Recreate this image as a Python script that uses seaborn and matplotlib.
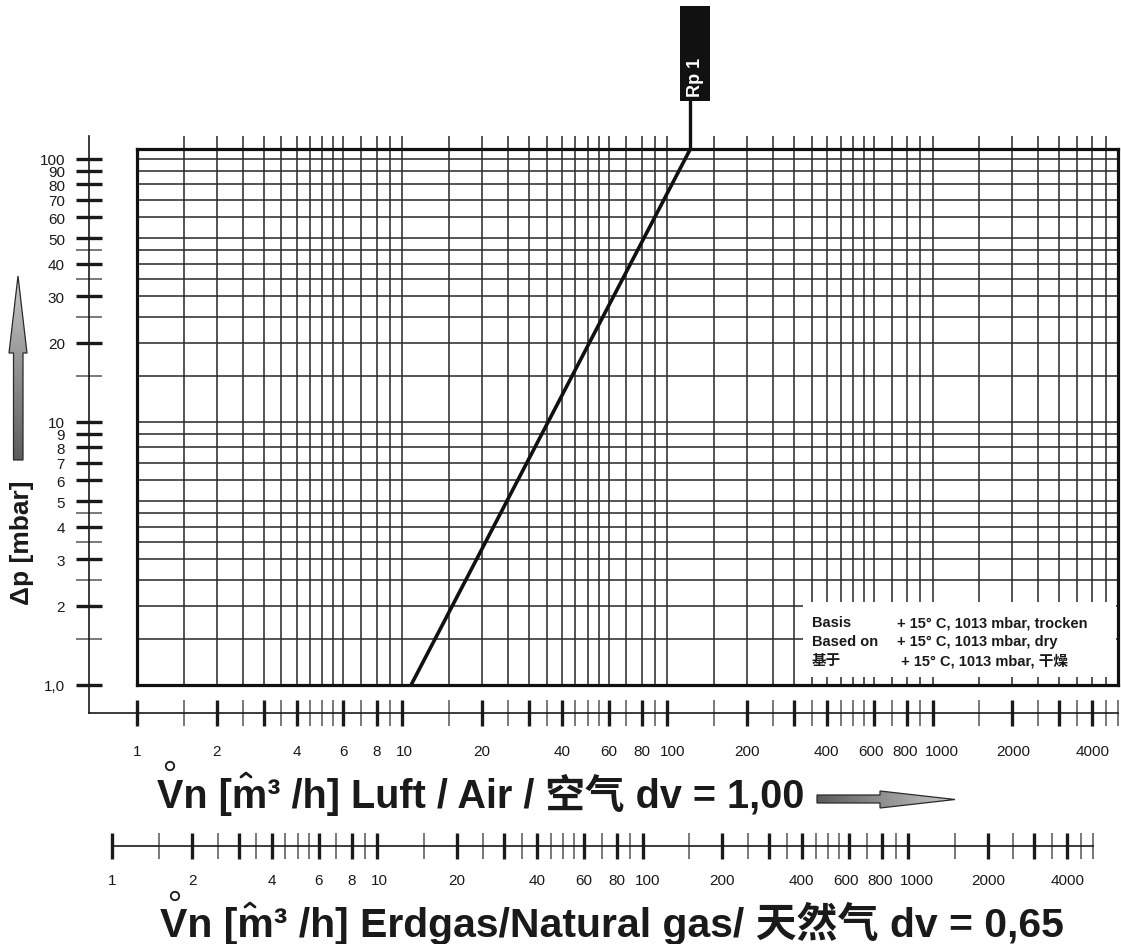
import numpy as np
import matplotlib
matplotlib.use("Agg")
import matplotlib.pyplot as plt
import seaborn as sns
from matplotlib.ticker import FixedLocator, FixedFormatter, NullFormatter
from matplotlib.patches import Rectangle, Polygon, Circle
from matplotlib.colors import LinearSegmentedColormap
from matplotlib.transforms import blended_transform_factory, offset_copy

W, H = 1121, 945

# Rp 1 pressure-drop line (air, dv = 1.00)
rp1_flow = [10.8, 122.0]   # m3/h
rp1_dp = [1.0, 109.0]      # mbar
dv_air = 1.00
dv_gas = 0.65

# scale structure of the log paper
mantissa = [1, 1.5, 2, 2.5, 3, 3.5, 4, 4.5, 5, 5.5, 6, 7, 8, 9]
decades = [1, 10, 100, 1000]
x_max = 5000
x_major = [1, 2, 3, 4, 6, 8, 10, 20, 30, 40, 60, 80, 100, 200, 300, 400,
           600, 800, 1000, 2000, 3000, 4000]
x_labels = ['1', '2', '', '4', '6', '8', '10', '20', '', '40', '60', '80',
            '100', '200', '', '400', '600', '800', '1000', '2000', '', '4000']
y_major = [1, 2, 3, 4, 5, 6, 7, 8, 9, 10, 20, 30, 40, 50, 60, 70, 80, 90, 100]
y_labels = ['1,0', '2', '3', '4', '5', '6', '7', '8', '9', '10',
            '20', '30', '40', '50', '60', '70', '80', '90', '100']
y_minor = [1.5, 2.5, 3.5, 4.5, 15, 25, 35, 45]
y_grid = [1.5, 2, 2.5, 3, 3.5, 4, 4.5, 5, 6, 7, 8, 9,
          10, 15, 20, 25, 30, 35, 40, 45, 50, 60, 70, 80, 90, 100]
y_max = 109

x_grid = [m * d for d in decades for m in mantissa if 1 < m * d < x_max]
x_minor = [v for v in x_grid if v not in x_major] + [x_max]

note_rows = [("Basis", "+ 15° C, 1013 mbar, trocken"),
             ("Based on", "+ 15° C, 1013 mbar, dry"),
             ("基于", " + 15° C, 1013 mbar, 干燥")]

# small horizontal nudges (px) of the scale labels, as printed
label_nudge = {'10': 2, '100': 5, '1000': 9, '400': -1, '600': -3,
               '800': -2, '2000': 1}

sns.set_theme(style="white")
plt.rcParams['font.family'] = ['Liberation Sans', 'Noto Sans CJK SC']

fig = plt.figure(figsize=(W / 100, H / 100), dpi=100)

# pixel layout of the paper
X0, X1 = 137, 1118
Y0, Y1 = 150, 686
dec_x = (X1 - X0) / np.log10(x_max)
dec_y = (Y1 - Y0) / np.log10(y_max)


def rect(x0, y0, x1, y1):
    return [x0 / W, 1 - y1 / H, (x1 - x0) / W, (y1 - y0) / H]


TICK = 18.7


def flow_scale(a, label_drop):
    # log flow scale along the bottom spine
    a.xaxis.set_major_locator(FixedLocator(x_major))
    a.xaxis.set_major_formatter(NullFormatter())
    a.xaxis.set_minor_locator(FixedLocator(x_minor))
    a.xaxis.set_minor_formatter(NullFormatter())
    a.tick_params(axis='x', which='major', direction='inout', length=TICK,
                  width=2.4, color='#1a1a1a', bottom=True)
    a.tick_params(axis='x', which='minor', direction='inout', length=TICK,
                  width=1.1, color='#555555', bottom=True)
    base = blended_transform_factory(a.transData, a.transAxes)
    for v, lab in zip(x_major, x_labels):
        if lab:
            tr = offset_copy(base, fig=fig, x=label_nudge.get(lab, 0),
                             y=-label_drop, units='dots')
            a.text(v, 0, lab, transform=tr, ha='center', va='top',
                   fontsize=11, color='#1a1a1a', clip_on=False)


# outer scale axes (y scale on the left, air scale at the bottom)
sx0, sy0, sy1 = 89, 137, 714
axs = fig.add_axes(rect(sx0, sy0, X1, sy1))
axs.patch.set_visible(False)
axs.set_xscale('log')
axs.set_yscale('log')
axs.set_xlim(10 ** (-(X0 - sx0) / dec_x), x_max)
axs.set_ylim(10 ** (-(sy1 - Y1) / dec_y), 10 ** ((Y1 - sy0) / dec_y))
for s in ['top', 'right']:
    axs.spines[s].set_visible(False)
for s in ['left', 'bottom']:
    axs.spines[s].set_linewidth(1.2)
    axs.spines[s].set_color('#1a1a1a')
flow_scale(axs, 31)
axs.yaxis.set_major_locator(FixedLocator(y_major))
axs.yaxis.set_major_formatter(FixedFormatter(y_labels))
axs.yaxis.set_minor_locator(FixedLocator(y_minor))
axs.yaxis.set_minor_formatter(NullFormatter())
axs.tick_params(axis='y', which='major', direction='inout', length=TICK,
                width=2.4, color='#1a1a1a', labelsize=11,
                labelcolor='#1a1a1a', pad=8, left=True)
axs.tick_params(axis='y', which='minor', direction='inout', length=TICK,
                width=1.1, color='#555555', left=True)

# natural gas scale: same pressure drop -> flow scaled by sqrt(dv_air/dv_gas)
shift = dec_x * np.log10(np.sqrt(dv_gas / dv_air))
gy = 847
axg = fig.add_axes(rect(X0 + shift, gy - 10, X1 + shift, gy))
axg.patch.set_visible(False)
axg.set_xscale('log')
axg.set_xlim(1, x_max)
axg.set_yticks([])
for s in ['top', 'right', 'left']:
    axg.spines[s].set_visible(False)
axg.spines['bottom'].set_linewidth(1.2)
axg.spines['bottom'].set_color('#1a1a1a')
flow_scale(axg, 27)

# main chart
ax = fig.add_axes(rect(X0, Y0, X1, Y1))
ax.set_xscale('log')
ax.set_yscale('log')
ax.set_xlim(1, x_max)
ax.set_ylim(1, y_max)
ax.set_xticks([])
ax.set_yticks([])
ax.minorticks_off()
for s in ax.spines.values():
    s.set_linewidth(2.3)
    s.set_color('#111111')
    s.set_zorder(4)

y_ext = 10 ** ((Y1 - sy0) / dec_y)
ax.vlines(x_grid, 1, y_ext, colors='#2e2e2e', lw=1.15, clip_on=False, zorder=1)
ax.hlines(y_grid, 1, x_max, colors='#2e2e2e', lw=1.15, zorder=1)

# note box hides the grid
nx0, nx1, ny0, ny1 = 803, 1116, 603, 678
ax.add_patch(Rectangle(((nx0 - X0) / (X1 - X0), (Y1 - ny1) / (Y1 - Y0)),
                       (nx1 - nx0) / (X1 - X0), (ny1 - ny0) / (Y1 - Y0),
                       transform=ax.transAxes, fc='white', ec='none', zorder=2))

sns.lineplot(x=rp1_flow, y=rp1_dp, ax=ax, color='#111111', lw=2.6, zorder=3)
label_dp = 10 ** ((Y1 - 102) / dec_y)
ax.plot([rp1_flow[-1]] * 2, [rp1_dp[-1], label_dp], color='#111111', lw=2.4,
        clip_on=False, zorder=3)

# overlay in pixel coordinates for labels and arrows
ov = fig.add_axes([0, 0, 1, 1])
ov.patch.set_visible(False)
ov.axis('off')


def grad_arrow(verts, extent, vertical):
    cmap = LinearSegmentedColormap.from_list('g', ['#c9c9c9', '#5c5c5c'])
    g = np.linspace(0, 1, 256)
    img = g.reshape(-1, 1) if vertical else g[::-1].reshape(1, -1)
    poly = Polygon(verts, closed=True, fc='none', ec='#2a2a2a', lw=0.9, zorder=3)
    ov.add_patch(poly)
    im = ov.imshow(img, cmap=cmap, extent=extent, aspect='auto',
                   interpolation='bilinear', zorder=2)
    im.set_clip_path(poly)


grad_arrow([(18, 277), (27, 354), (23, 354), (23, 461), (13.5, 461),
            (13.5, 354), (9, 354)], (9, 27, 461, 277), True)
grad_arrow([(817, 796), (880, 796), (880, 792), (955, 800.5), (880, 809),
            (880, 804), (817, 804)], (817, 955, 809, 792), False)

ov.set_xlim(0, W)
ov.set_ylim(H, 0)

ov.text(22, 543, "Δp [mbar]", rotation=90, ha='center', va='center',
        fontsize=19, fontweight='bold', color='#1a1a1a')

ov.text(157, 808, "Vn [m³ /h] Luft / Air / 空气 dv = 1,00", ha='left',
        va='baseline', fontsize=28.5, fontweight='bold', color='#1a1a1a')
ov.add_patch(Circle((170, 767), 4.2, fill=False, ec='#1a1a1a', lw=1.3))
ov.plot([241, 246, 251], [778, 774, 778], color='#1a1a1a', lw=2)

ov.text(160, 937, "Vn [m³ /h] Erdgas/Natural gas/ 天然气 dv = 0,65", ha='left',
        va='baseline', fontsize=29.5, fontweight='bold', color='#1a1a1a')
ov.add_patch(Circle((175, 897), 4.2, fill=False, ec='#1a1a1a', lw=1.3))
ov.plot([245, 250, 255], [908, 904, 908], color='#1a1a1a', lw=2)

# Rp 1 label
ov.add_patch(Rectangle((680, 7), 30, 95, fc='#111111', ec='none'))
ov.text(695, 77, "Rp 1", rotation=90, ha='center', va='center', fontsize=13,
        fontweight='bold', color='white')

for i, (a, b) in enumerate(note_rows):
    yy = 623 + i * 19
    ov.text(812, yy, a, ha='left', va='center', fontsize=10.5,
            fontweight='bold', color='#1a1a1a')
    ov.text(897, yy, b, ha='left', va='center', fontsize=10.5,
            fontweight='bold', color='#1a1a1a')

fig.savefig("out.png", dpi=100)
